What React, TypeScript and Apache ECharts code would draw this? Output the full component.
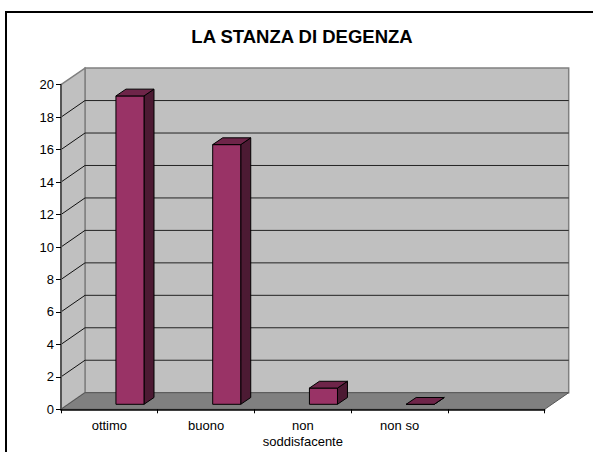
import React, { useEffect, useRef } from "react";
import * as echarts from "echarts";

const titleText = "LA STANZA DI DEGENZA";
const categories = ["ottimo", "buono", "non\nsoddisfacente", "non so", ""];
const values = [19, 16, 1, 0];
const yTicks = [2, 4, 6, 8, 10, 12, 14, 16, 18];
const yMax = 20;

const FONT = "'Liberation Sans', Arial, sans-serif";
const DX = 24;
const DY = -16.6;
const FRONT = "#993366";
const SIDE = "#4c1a33";
const TOP = "#6e2549";
const WALL = "#c0c0c0";
const FLOOR = "#808080";

function wallsItem(params: any, api: any) {
  const band = api.size([1, 0])[0];
  const bl = api.coord([0, 0]);
  const tl = api.coord([0, yMax]);
  const x0 = bl[0] - band / 2;
  const x1 = x0 + band * categories.length;
  const y0 = bl[1];
  const yT = tl[1];
  const poly = (points: number[][], fill: string, stroke: string, lineWidth: number) => ({
    type: "polygon",
    shape: { points },
    style: { fill, stroke, lineWidth },
  });
  return {
    type: "group",
    children: [
      poly([[x0 + DX, yT + DY], [x1 + DX, yT + DY], [x1 + DX, y0 + DY], [x0 + DX, y0 + DY]], WALL, "#808080", 1.5),
      poly([[x0, yT], [x0 + DX, yT + DY], [x0 + DX, y0 + DY], [x0, y0]], WALL, "#808080", 1.5),
      poly([[x0, y0], [x0 + DX, y0 + DY], [x1 + DX, y0 + DY], [x1, y0]], FLOOR, "#555555", 1),
    ],
  };
}

function gridItem(params: any, api: any) {
  const band = api.size([1, 0])[0];
  const p = api.coord([0, api.value(1)]);
  const x0 = p[0] - band / 2;
  const x1 = x0 + band * categories.length;
  const y = p[1];
  return {
    type: "group",
    children: [
      { type: "line", shape: { x1: x0, y1: y, x2: x0 + DX, y2: y + DY }, style: { stroke: "#111111", lineWidth: 1 } },
      { type: "line", shape: { x1: x0 + DX, y1: y + DY, x2: x1 + DX, y2: y + DY }, style: { stroke: "#222222", lineWidth: 1 } },
    ],
  };
}

function barItem(params: any, api: any) {
  const band = api.size([1, 0])[0];
  const w = band * 0.29;
  const c = api.coord([api.value(0), api.value(1)]);
  const base = api.coord([api.value(0), 0]);
  const xL = c[0] + band * 0.213 - w / 2;
  const xR = xL + w;
  const lift = -5;
  const yTop = c[1] + lift;
  const yBot = base[1] + lift;
  const sx = 10;
  const sy = -6.8;
  const s = { stroke: "#000000", lineWidth: 1, lineJoin: "round" };
  return {
    type: "group",
    children: [
      { type: "polygon", shape: { points: [[xR, yTop], [xR + sx, yTop + sy], [xR + sx, yBot + sy], [xR, yBot]] }, style: { fill: SIDE, ...s } },
      { type: "polygon", shape: { points: [[xL, yBot], [xR, yBot], [xR, yTop], [xL, yTop]] }, style: { fill: FRONT, ...s } },
      { type: "polygon", shape: { points: [[xL, yTop], [xR, yTop], [xR + sx, yTop + sy], [xL + sx, yTop + sy]] }, style: { fill: TOP, ...s } },
    ],
  };
}

export default function App() {
  const ref = useRef<HTMLDivElement>(null);
  useEffect(() => {
    document.body.style.margin = "0";
    document.body.style.background = "#ffffff";
    const chart = echarts.init(ref.current!, undefined, { renderer: "svg" });
    chart.setOption({
      animation: false,
      backgroundColor: "#ffffff",
      title: {
        text: titleText,
        left: 297,
        top: 22,
        textAlign: "center",
        textStyle: { fontFamily: FONT, fontSize: 18.5, fontWeight: "bold", color: "#000000" },
      },
      grid: { left: 61, top: 84.7, width: 483.7, height: 324.6, containLabel: false },
      xAxis: {
        type: "category",
        data: categories,
        z: 5,
        boundaryGap: true,
        axisLine: { show: true, onZero: false, lineStyle: { color: "#000000", width: 1.5 } },
        axisTick: { show: true, alignWithLabel: false, interval: 0, length: 4, lineStyle: { color: "#000000", width: 1 } },
        axisLabel: { interval: 0, fontFamily: FONT, fontSize: 13, color: "#000000", margin: 8, lineHeight: 16 },
      },
      yAxis: {
        type: "value",
        min: 0,
        max: yMax,
        interval: 2,
        z: 5,
        splitLine: { show: false },
        axisLine: { show: true, lineStyle: { color: "#555555", width: 2 } },
        axisTick: { show: true, length: 5, lineStyle: { color: "#000000" } },
        axisLabel: { fontFamily: FONT, fontSize: 13, color: "#000000", margin: 7 },
      },
      graphic: [
        { type: "line", shape: { x1: 6, y1: 12, x2: 593, y2: 12 }, style: { stroke: "#000000", lineWidth: 2 } },
        { type: "line", shape: { x1: 6, y1: 11, x2: 6, y2: 452 }, style: { stroke: "#000000", lineWidth: 2 } },
      ],
      series: [
        { type: "custom", z: 1, renderItem: wallsItem, data: [[0, 0]], silent: true },
        { type: "custom", z: 2, renderItem: gridItem, data: yTicks.map((v) => [0, v]), silent: true },
        { type: "custom", z: 3, renderItem: barItem, data: values.map((v, i) => [i, v]), silent: true },
      ],
    });
    return () => chart.dispose();
  }, []);
  return <div ref={ref} style={{ width: 593, height: 452 }} />;
}
